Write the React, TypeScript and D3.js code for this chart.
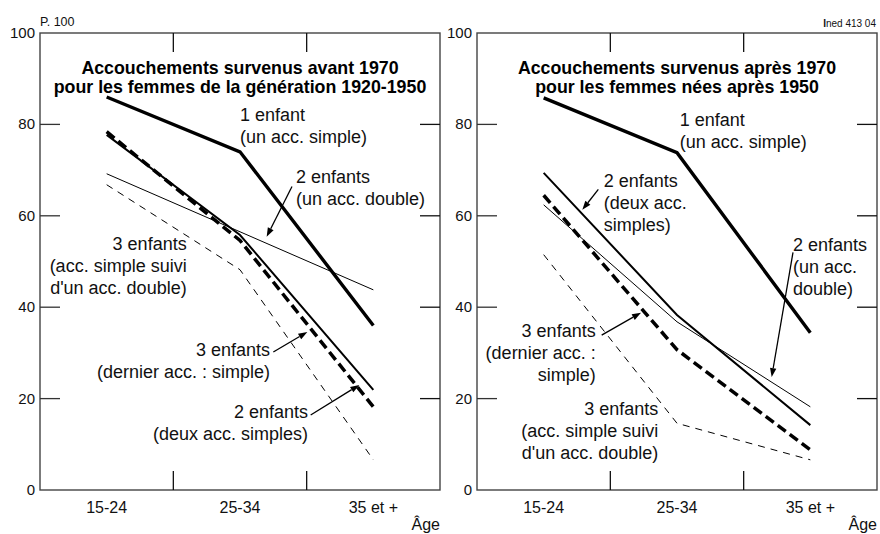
import React from "react";
import * as d3 from "d3";

const ageGroups = ["15-24", "25-34", "35 et +"];
const yTicks = [0, 20, 40, 60, 80, 100];

// Left panel: births before 1970, women born 1920-1950
const before1Child = [86, 74, 36];
const before2Double = [69.2, 56.5, 43.8];
const before2Simple = [77.7, 55.8, 21.9];
const before3LastSimple = [78.4, 54.6, 18.2];
const before3SimpleThenDouble = [66.8, 48.2, 6.6];

// Right panel: births after 1970, women born after 1950
const after1Child = [85.8, 73.8, 34.4];
const after2Simple = [69.4, 38.3, 14.2];
const after2Double = [62.4, 36.8, 18.2];
const after3LastSimple = [64.5, 30.7, 8.8];
const after3SimpleThenDouble = [51.5, 14.6, 6.6];

const titlesLeft = ["Accouchements survenus avant 1970", "pour les femmes de la génération 1920-1950"];
const titlesRight = ["Accouchements survenus après 1970", "pour les femmes nées après 1950"];

type Style = { w: number; dash?: string };
const sThick: Style = { w: 3.4 };
const sMed: Style = { w: 2 };
const sThin: Style = { w: 1 };
const sThickDash: Style = { w: 3.5, dash: "10,5" };
const sThinDash: Style = { w: 1, dash: "7,6" };

type Ann = {
  lines: string[];
  ix: number;
  v: number;
  anchor: "start" | "end";
  arrow?: [number, number, number, number];
};

const leftAnns: Ann[] = [
  { lines: ["1 enfant", "(un acc. simple)"], ix: 1.0, v: 80.8, anchor: "start" },
  { lines: ["2 enfants", "(un acc. double)"], ix: 1.42, v: 67.2, anchor: "start", arrow: [1.39, 66.4, 1.2, 55.4] },
  { lines: ["3 enfants", "(acc. simple suivi", "d'un acc. double)"], ix: 0.6, v: 52.5, anchor: "end" },
  { lines: ["3 enfants", "(dernier acc. : simple)"], ix: 1.225, v: 29.3, anchor: "end", arrow: [1.25, 30.2, 1.505, 34.6] },
  { lines: ["2 enfants", "(deux acc. simples)"], ix: 1.51, v: 15.8, anchor: "end", arrow: [1.53, 16.4, 1.895, 23.0] },
];

const rightAnns: Ann[] = [
  { lines: ["1 enfant", "(un acc. simple)"], ix: 1.02, v: 79.7, anchor: "start" },
  { lines: ["2 enfants", "(deux acc.", "simples)"], ix: 0.45, v: 66.3, anchor: "start", arrow: [0.41, 65.8, 0.29, 61.3] },
  { lines: ["2 enfants", "(un acc.", "double)"], ix: 1.87, v: 52.3, anchor: "start", arrow: [1.87, 52.0, 1.71, 24.7] },
  { lines: ["3 enfants", "(dernier acc. :", "simple)"], ix: 0.39, v: 33.5, anchor: "end", arrow: [0.435, 33.9, 0.73, 38.8] },
  { lines: ["3 enfants", "(acc. simple suivi", "d'un acc. double)"], ix: 0.86, v: 16.4, anchor: "end" },
];

const FONT = "'Liberation Sans', Arial, sans-serif";

function Panel({
  x0,
  x1,
  series,
  titles,
  anns,
}: {
  x0: number;
  x1: number;
  series: { values: number[]; style: Style }[];
  titles: string[];
  anns: Ann[];
}) {
  const top = 33;
  const bottom = 490;
  const x = d3.scaleBand<string>().domain(ageGroups).range([x0, x1]);
  const cx = (c: string) => (x(c) as number) + x.bandwidth() / 2;
  const y = d3.scaleLinear().domain([0, 100]).range([bottom, top]);
  const xi = d3.scaleLinear().domain([0, 2]).range([cx(ageGroups[0]), cx(ageGroups[2])]);
  const line = d3
    .line<number>()
    .x((_, i) => cx(ageGroups[i]))
    .y((d) => y(d));
  const boundaries = ageGroups.slice(1).map((c) => x(c) as number);
  const midX = (x0 + x1) / 2;
  return (
    <g>
      <rect x={x0} y={top} width={x1 - x0} height={bottom - top} fill="none" stroke="#444" strokeWidth={1.4} />
      {yTicks.filter((t) => t > 0 && t < 100).map((t) => (
        <g key={t}>
          <line x1={x0} x2={x0 + 20} y1={y(t)} y2={y(t)} stroke="#333" strokeWidth={1.3} />
          <line x1={x1 - 20} x2={x1} y1={y(t)} y2={y(t)} stroke="#111" strokeWidth={1.3} />
        </g>
      ))}
      {boundaries.map((b) => (
        <g key={b}>
          <line x1={b} x2={b} y1={top} y2={top + 19} stroke="#111" strokeWidth={1.3} />
          <line x1={b} x2={b} y1={bottom - 19} y2={bottom} stroke="#111" strokeWidth={1.3} />
        </g>
      ))}
      {yTicks.map((t) => (
        <text key={t} x={x0 - 5} y={y(t) + 5} textAnchor="end" fontSize={15} fontFamily={FONT} fill="#111">
          {t}
        </text>
      ))}
      {ageGroups.map((c) => (
        <text key={c} x={cx(c)} y={513} textAnchor="middle" fontSize={16} fontFamily={FONT} fill="#111">
          {c}
        </text>
      ))}
      <text x={x1} y={530} textAnchor="end" fontSize={16} fontFamily={FONT} fill="#111">
        Âge
      </text>
      {titles.map((t, i) => (
        <text key={i} x={midX} y={74 + i * 19} textAnchor="middle" fontSize={17.8} fontWeight="bold" fontFamily={FONT} fill="#000">
          {t}
        </text>
      ))}
      {series.map((s, i) => (
        <path
          key={i}
          d={line(s.values) || ""}
          fill="none"
          stroke="#000"
          strokeWidth={s.style.w}
          strokeDasharray={s.style.dash}
          strokeLinejoin="miter"
        />
      ))}
      {anns.map((a, i) => {
        const tx = xi(a.ix);
        const ty = y(a.v);
        let arrow = null;
        if (a.arrow) {
          const [ax0, av0, ax1, av1] = a.arrow;
          const p0 = [xi(ax0), y(av0)];
          const p1 = [xi(ax1), y(av1)];
          const dx = p1[0] - p0[0];
          const dy = p1[1] - p0[1];
          const len = Math.hypot(dx, dy);
          const ux = dx / len;
          const uy = dy / len;
          const hl = 9;
          const hw = 3.2;
          const bx = p1[0] - ux * hl;
          const by = p1[1] - uy * hl;
          const head = `M${p1[0]},${p1[1]}L${bx - uy * hw},${by + ux * hw}L${bx + uy * hw},${by - ux * hw}Z`;
          arrow = (
            <g>
              <line x1={p0[0]} y1={p0[1]} x2={bx} y2={by} stroke="#000" strokeWidth={1.3} />
              <path d={head} fill="#000" />
            </g>
          );
        }
        return (
          <g key={i}>
            {arrow}
            <text x={tx} y={ty} textAnchor={a.anchor} fontSize={18} fontFamily={FONT} fill="#111">
              {a.lines.map((l, j) => (
                <tspan key={j} x={tx} y={ty + j * 22}>
                  {l}
                </tspan>
              ))}
            </text>
          </g>
        );
      })}
    </g>
  );
}

export default function App() {
  const leftSeries = [
    { values: before3SimpleThenDouble, style: sThinDash },
    { values: before2Double, style: sThin },
    { values: before2Simple, style: sMed },
    { values: before3LastSimple, style: sThickDash },
    { values: before1Child, style: sThick },
  ];
  const rightSeries = [
    { values: after3SimpleThenDouble, style: sThinDash },
    { values: after2Double, style: sThin },
    { values: after2Simple, style: sMed },
    { values: after3LastSimple, style: sThickDash },
    { values: after1Child, style: sThick },
  ];
  return (
    <svg
      width={880}
      height={534}
      style={{ position: "absolute", left: 0, top: 0, background: "#fff" }}
    >
      <rect width={880} height={534} fill="#fff" />
      <text x={40} y={26} fontSize={12.5} fontFamily={FONT} fill="#111">
        P. 100
      </text>
      <text x={876} y={27} textAnchor="end" fontSize={10} fontFamily={FONT} fill="#111">
        <tspan fontWeight="bold">I</tspan>ned 413 04
      </text>
      <Panel x0={40} x1={440} series={leftSeries} titles={titlesLeft} anns={leftAnns} />
      <Panel x0={477} x1={877} series={rightSeries} titles={titlesRight} anns={rightAnns} />
    </svg>
  );
}
